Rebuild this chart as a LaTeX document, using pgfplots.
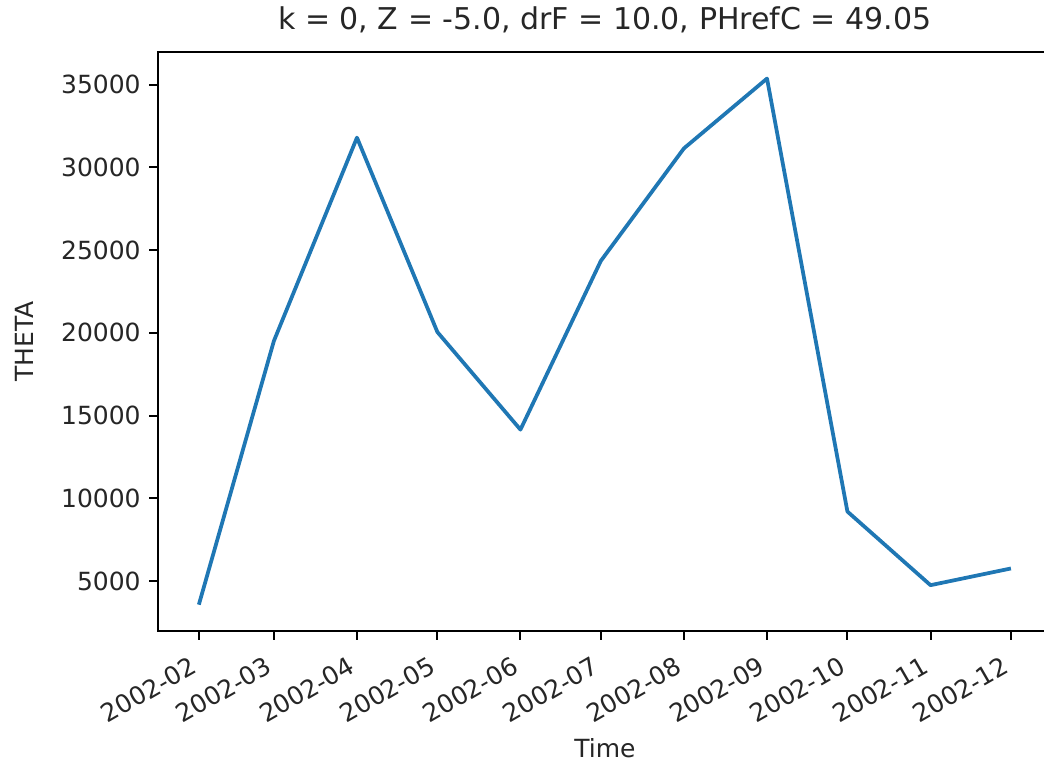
\documentclass[border=0pt]{standalone}
\usepackage{fontspec}
\setmainfont{DejaVu Sans}
\usepackage{pgfplots}
\pgfplotsset{compat=1.18}
\definecolor{mplblue}{HTML}{1F77B4}
\definecolor{mpltext}{HTML}{262626}
\begin{document}
\begin{tikzpicture}
\begin{axis}[
  name=ax,
  scale only axis,
  width=357.3pt, height=231.5pt,
  xmin=-15.15, xmax=318.15, ymin=1980, ymax=36960,
  xtick={0,28,59,89,120,150,181,212,242,273,303},
  xticklabels={2002-02,2002-03,2002-04,2002-05,2002-06,2002-07,2002-08,2002-09,2002-10,2002-11,2002-12},
  ytick={5000,10000,15000,20000,25000,30000,35000},
  scaled y ticks=false,
  yticklabel style={/pgf/number format/.cd, fixed, 1000 sep={}},
  /pgf/number format/assume math mode=true,
  tick align=outside, tick pos=left,
  major tick length=3.5pt,
  every tick/.style={black, line width=0.8pt},
  axis line style={line width=0.8pt},
  tick label style={font=\fontsize{10}{12}\selectfont, text=mpltext},
  xticklabel style={rotate=30, anchor=north east, xshift=-3pt},
  title={k = 0, Z = -5.0, drF = 10.0, PHrefC = 49.05},
  title style={font=\fontsize{12}{14}\selectfont, text=mpltext, yshift=-2pt},
  xlabel={Time}, ylabel={THETA},
  label style={font=\fontsize{10}{12}\selectfont, text=mpltext},
  xlabel style={yshift=2.5pt},
  ylabel style={yshift=4pt},
]
\addplot[color=mplblue, line width=1.5pt, line join=round] coordinates {
  (0,3570) (28,19510) (59,31800) (89,20050) (120,14150) (150,24350)
  (181,31150) (212,35370) (242,9200) (273,4750) (303,5760)
};
\end{axis}
\pgfresetboundingbox
\path[use as bounding box] ([xshift=-63.3pt,yshift=-53.6pt]ax.south west) rectangle ([xshift=354.3pt,yshift=252.4pt]ax.south west);
\end{tikzpicture}
\end{document}
